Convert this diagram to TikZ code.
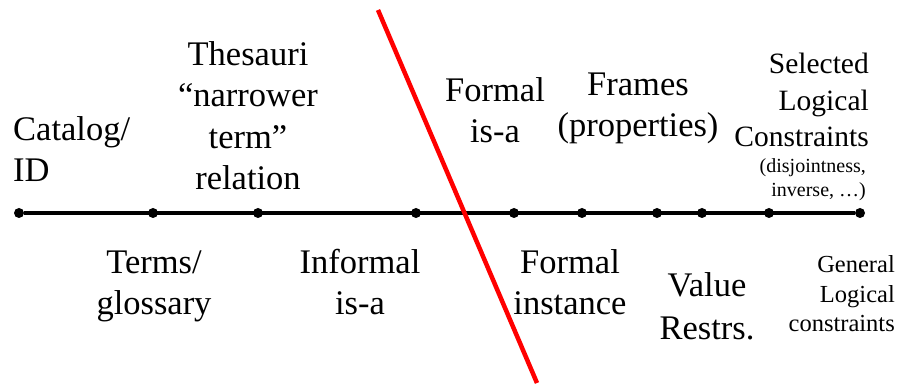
\documentclass[tikz,border=0pt]{standalone}
\usepackage{fontspec}
\setmainfont{Liberation Serif}
\usepackage{tikz}
\usetikzlibrary{positioning}

\tikzset{
  dot/.style={circle,fill=black,inner sep=0pt,minimum size=10pt},
  lbl/.style={inner sep=0pt,align=center,font=\fontsize{34.5}{41.5}\selectfont},
}

\begin{document}
\begin{tikzpicture}[x=1pt,y=1pt]
\useasboundingbox (0,0) rectangle (898,385);
% the scale line with its points
\foreach \x [count=\i] in {19,153,258,416,514,582,657,702,769,860}
  \node[dot] (d\i) at (\x,172) {};
\draw[line width=4pt] (d1) -- (d10);
% labels above
\node[lbl,align=left,anchor=base west] (catalog) at (13,203) {Catalog/\\ID};
\node[lbl,anchor=base] (thesauri) at (248,195) {Thesauri\\“narrower\\term”\\relation};
\node[lbl,anchor=base] (formalisa) at (495,242) {Formal\\is-a};
\node[lbl,anchor=base] (frames) at (638,248) {Frames\\(properties)};
\node[lbl,align=right,anchor=base east,font=\fontsize{29.5}{36.5}\selectfont] (selected) at (869,238) {Selected\\Logical\\Constraints};
\node[lbl,align=right,anchor=base east,font=\fontsize{20}{24}\selectfont] (disjoint) at (866,188) {(disjointness,\\inverse, …)};
% labels below
\node[lbl,anchor=base] (terms) at (154,70) {Terms/\\glossary};
\node[lbl,anchor=base] (informal) at (360,70) {Informal\\is-a};
\node[lbl,anchor=base] (instance) at (570,70) {Formal\\instance};
\node[lbl,anchor=base,font=\fontsize{34.5}{43}\selectfont] (value) at (707,45) {Value\\Restrs.};
\node[lbl,align=right,anchor=base east,font=\fontsize{24.5}{29.5}\selectfont] (general) at (895,53) {General\\Logical\\constraints};
% the dividing line
\coordinate (rtop) at (378,375);
\coordinate (rbot) at (537,2);
\draw[red,line width=4.5pt] (rtop) -- (rbot);
\end{tikzpicture}
\end{document}
